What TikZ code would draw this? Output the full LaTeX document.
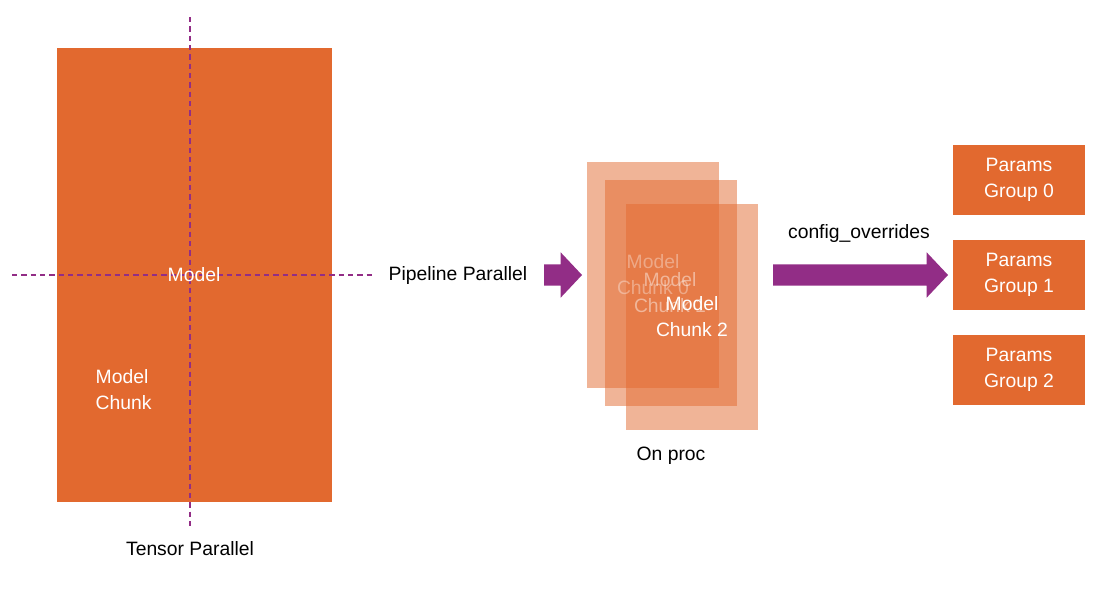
\documentclass[tikz,border=0pt]{standalone}
\usepackage{fontspec}
\setmainfont{Liberation Sans}
\definecolor{org}{HTML}{E2692F}
\definecolor{pur}{HTML}{922D86}
\begin{document}
\begin{tikzpicture}[x=0.75pt,y=-0.75pt,
  txt/.style={font=\fontsize{14.5}{19.5}\selectfont,align=center},
  wtxt/.style={txt,text=white},
  box/.style={fill=org,draw=none},
  chunk/.style={fill=org,fill opacity=0.5,draw=none},
  cut/.style={pur,line width=0.8pt,dash pattern=on 4pt off 3pt},
  fatarrow/.style={fill=pur,draw=none}]
\useasboundingbox (0,0) rectangle (1116,593);
\fill[box] (57,48) rectangle (332,502);
\draw[cut] (190,17) -- (190,530);
\draw[cut] (12,275) -- (375,275);
\node[wtxt] (model) at (194,275) {Model};
\node[wtxt,align=left,anchor=west] (mc) at (91,390) {Model\\Chunk};
\node[txt] (tp) at (190,549) {Tensor Parallel};
\node[txt] (pp) at (458,275) {Pipeline Parallel};
\coordinate (a1s) at (544,275); \coordinate (a1e) at (582,275);
\fill[fatarrow] ([yshift=-8]a1s) -- ([xshift=-16,yshift=-8]a1e) -- ([xshift=-16,yshift=-17]a1e) -- (a1e) -- ([xshift=-16,yshift=17]a1e) -- ([xshift=-16,yshift=8]a1e) -- ([yshift=8]a1s) -- cycle;
\fill[chunk] (587,162) rectangle (719,388);
\fill[chunk] (605,180) rectangle (737,406);
\fill[chunk] (626,204) rectangle (758,430);
\node[txt,text=white,text opacity=0.35] (c0) at (653,275) {Model\\Chunk 0};
\node[txt,text=white,text opacity=0.45] (c1) at (670,293) {Model\\Chunk 1};
\node[wtxt] (c2) at (692,317) {Model\\Chunk 2};
\node[txt] (op) at (671,456) {On proc};
\coordinate (a2s) at (773,275); \coordinate (a2e) at (948,275);
\fill[fatarrow] ([yshift=-8]a2s) -- ([xshift=-16,yshift=-8]a2e) -- ([xshift=-16,yshift=-17]a2e) -- (a2e) -- ([xshift=-16,yshift=17]a2e) -- ([xshift=-16,yshift=8]a2e) -- ([yshift=8]a2s) -- cycle;
\node[txt] (co) at (859,233) {config\_overrides};
\foreach \i/\y in {0/180,1/275,2/370}{
  \fill[box] (953,\y-35) rectangle (1085,\y+35);
  \node[wtxt] (p\i) at (1019,\y) {Params\\Group \i};
}
\end{tikzpicture}
\end{document}
